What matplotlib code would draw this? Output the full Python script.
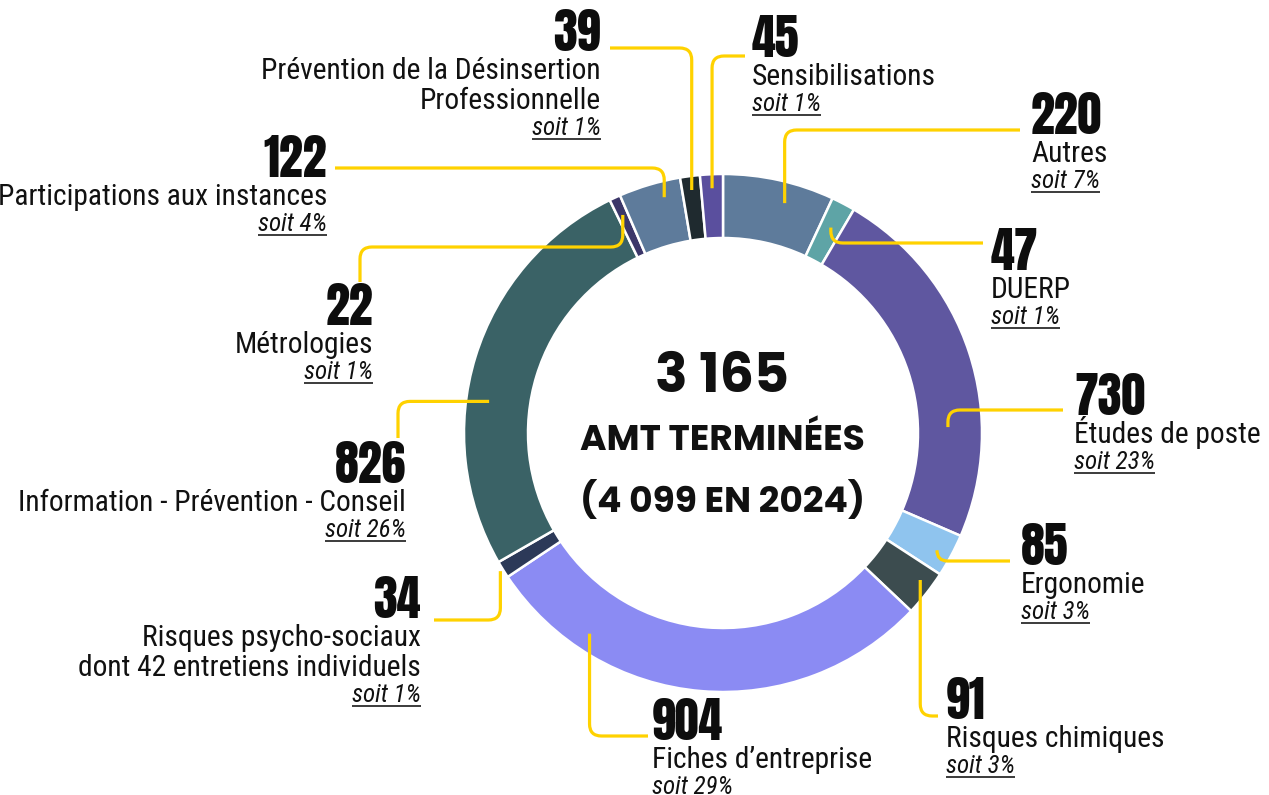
import numpy as np
import matplotlib.pyplot as plt
from matplotlib.path import Path
from matplotlib.patches import PathPatch

W, H = 1269, 795

# data (clockwise from 12 o'clock)
names = ["Autres", "DUERP", "Études de poste", "Ergonomie", "Risques chimiques",
         "Fiches d’entreprise",
         "Risques psycho-sociaux\ndont 42 entretiens individuels",
         "Information - Prévention - Conseil", "Métrologies",
         "Participations aux instances",
         "Prévention de la Désinsertion\nProfessionnelle", "Sensibilisations"]
values = [220, 47, 730, 85, 91, 904, 34, 826, 22, 122, 39, 45]
colors = ["#5e7b9b", "#5ea4a6", "#5f57a0", "#8fc4ee", "#3c4c4f", "#8b8bf3",
          "#2c3958", "#3a6266", "#3b3669", "#5e7b9b", "#1f2a2f", "#5a4f9e"]
center_lines = ["3 165", "AMT TERMINÉES", "(4 099 EN 2024)"]

# layout, in pixels from the top-left corner
cx, cy = 723, 433
r_out, ring_w = 259, 64
side = ["R", "R", "R", "R", "R", "R", "L", "L", "L", "L", "L", "R"]
num_x = [1031, 991, 1074, 1021, 946, 652, 421, 406, 373, 327, 601, 752]
num_y = [134, 270, 415, 565, 719, 740, 618, 483, 325, 177, 51, 57]
anchor_frac = [0.6, 0.5, 0.70, 0.55, 0.35, 0.78, 0.5, 0.4, 0.5, 0.68, 0.5, 0.5]
anchor_r = [238, 232, 225, 244, 246, 241, 262, 236, 240, 243, 245, 245]
routes = [[("y", 130), ("x", 1020)],
          [("y", 243), ("x", 983)],
          [("y", 410), ("x", 1063)],
          [("y", 561), ("x", 1010)],
          [("y", 716), ("x", 938)],
          [("y", 736), ("x", 648)],
          [("y", 620), ("x", 434)],
          [("x", 398), ("y", 438)],
          [("y", 247), ("x", 360), ("y", 282)],
          [("y", 168), ("x", 335)],
          [("y", 48), ("x", 610)],
          [("y", 56), ("x", 745)]]

YELLOW = "#ffd200"
NUMF = ["Anton", "Roboto Condensed", "DejaVu Sans"]
LABF = ["Roboto Condensed", "Liberation Sans", "DejaVu Sans"]
CENF = ["Poppins", "Lato", "DejaVu Sans"]
PT = 0.72  # px -> pt at 100 dpi

fig = plt.figure(figsize=(W / 100, H / 100), dpi=100)
ax = fig.add_axes([0, 0, 1, 1])
ax.pie(values, colors=colors, startangle=90, counterclock=False,
       radius=r_out, center=(cx, H - cy),
       wedgeprops=dict(width=ring_w, edgecolor="white", linewidth=1.8))
ax.set_xlim(0, W)
ax.set_ylim(0, H)
ax.set_aspect("equal")
ax.axis("off")


def rounded(pts, rc=12):
    verts = [pts[0]]
    codes = [Path.MOVETO]
    for i in range(1, len(pts) - 1):
        p0, p1, p2 = (np.array(p, float) for p in pts[i - 1:i + 2])
        l1, l2 = np.linalg.norm(p1 - p0), np.linalg.norm(p2 - p1)
        d1, d2 = (p1 - p0) / l1, (p2 - p1) / l2
        r = min(rc, l1, l2)
        verts += [tuple(p1 - d1 * r), tuple(p1), tuple(p1 + d2 * r)]
        codes += [Path.LINETO, Path.CURVE3, Path.CURVE3]
    verts.append(pts[-1])
    codes.append(Path.LINETO)
    return Path(verts, codes)


total = sum(values)
cum = np.concatenate([[0], np.cumsum(values)]) / total * 360
soit_texts = []
for i, v in enumerate(values):
    th = np.radians(cum[i] + anchor_frac[i] * (cum[i + 1] - cum[i]))
    ax_ = cx + anchor_r[i] * np.sin(th)
    ay_ = cy - anchor_r[i] * np.cos(th)
    pts = [(ax_, ay_)]
    x, y = ax_, ay_
    for k, val in routes[i]:
        if k == "y":
            y = val
        else:
            x = val
        pts.append((x, y))
    pts = [(px, H - py) for px, py in pts]
    ax.add_patch(PathPatch(rounded(pts), fill=False, edgecolor=YELLOW,
                           lw=3.2 * PT, capstyle="butt", joinstyle="round"))

    ha = "left" if side[i] == "R" else "right"
    ax.text(num_x[i], H - num_y[i], str(v), ha=ha, va="baseline",
            family=NUMF, fontsize=48 * PT, color="#0d0d0d")
    yy = num_y[i] + 28
    for line in names[i].split("\n"):
        ax.text(num_x[i], H - yy, line, ha=ha, va="baseline",
                family=LABF, fontsize=29.5 * PT, color="#111111")
        yy += 30
    yy -= 4
    pct = round(v / total * 100)
    t = ax.text(num_x[i], H - yy, f"soit {pct}%", ha=ha, va="baseline",
                family=LABF, style="italic", fontsize=25 * PT,
                color="#111111")
    soit_texts.append((t, yy))

# center text
ax.text(722, H - 392, center_lines[0], ha="center", va="baseline",
        family=CENF, weight="bold", fontsize=54 * PT, color="#111111")
ax.text(722, H - 450, center_lines[1], ha="center", va="baseline",
        family=CENF, weight="bold", fontsize=36 * PT, color="#111111")
ax.text(722, H - 512, center_lines[2], ha="center", va="baseline",
        family=CENF, weight="bold", fontsize=36 * PT, color="#111111")

# underline the "soit" texts
fig.canvas.draw()
rend = fig.canvas.get_renderer()
for t, yy in soit_texts:
    bb = t.get_window_extent(rend)
    ax.plot([bb.x0, bb.x1], [H - yy - 4, H - yy - 4], color="#111111",
            lw=1.6 * PT, solid_capstyle="butt")

fig.savefig("out.png", dpi=100)
